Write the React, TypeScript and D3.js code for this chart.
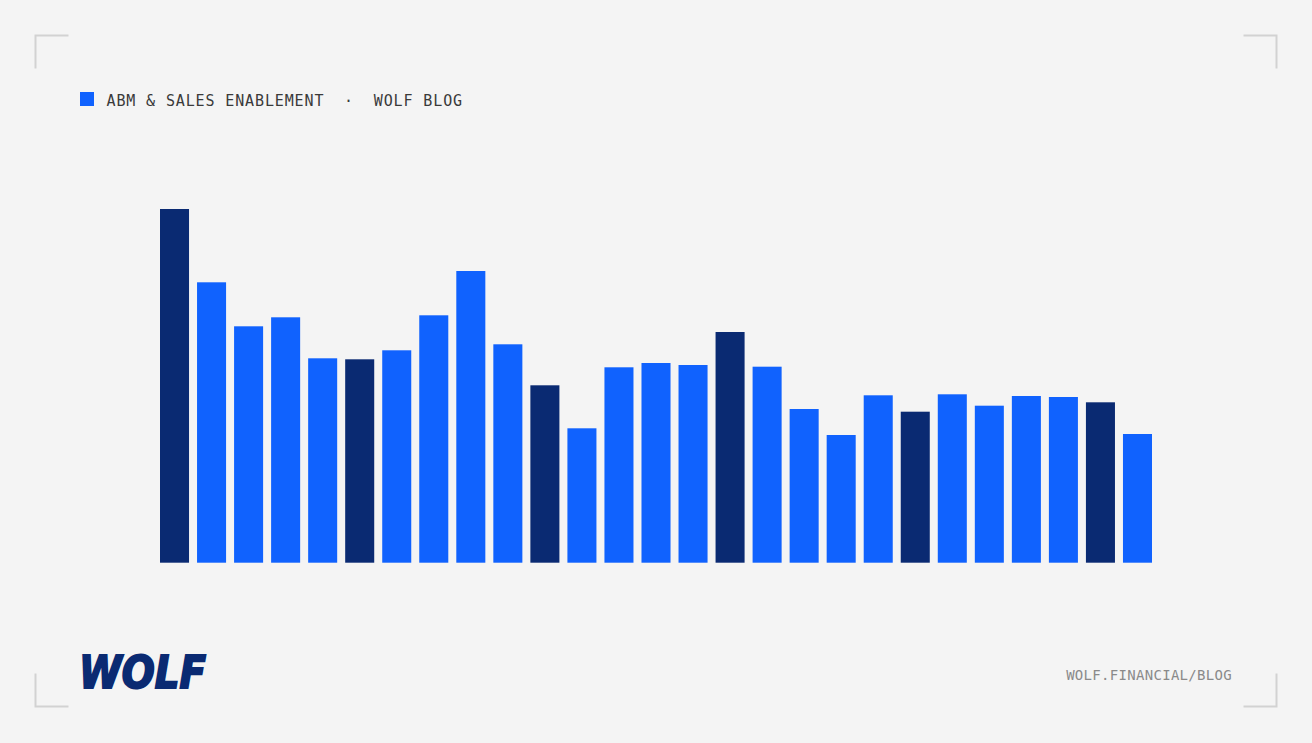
import React, { useEffect, useRef } from "react";
import * as d3 from "d3";

// 27개 막대 (높이 값은 그림에서 읽은 추정치)
const categories = d3.range(1, 28).map((i) => `P${i}`);
const values = [
  353.7, 280.4, 236.4, 245.4, 204.4, 203.4, 212.4, 247.4, 291.7, 218.4,
  177.4, 134.4, 195.4, 199.7, 197.7, 230.7, 196.0, 153.7, 127.7, 167.4,
  151.0, 168.4, 157.0, 166.7, 165.7, 160.4, 128.7,
];
// 강조(진한 남색) 막대 인덱스
const highlighted = [0, 5, 10, 15, 20, 25];

const headerLabel = "ABM & SALES ENABLEMENT  ·  WOLF BLOG";
const footerLabel = "WOLF.FINANCIAL/BLOG";
const logoLabel = "WOLF";

const BLUE = "#1062fe";
const NAVY = "#0a2a72";
const BG = "#f4f4f4";
const CORNER = "#d2d2d2";

const App: React.FC = () => {
  const ref = useRef<HTMLDivElement>(null);

  useEffect(() => {
    if (!ref.current) return;
    document.body.style.margin = "0";
    d3.select(ref.current).selectAll("svg").remove();

    const width = 1312;
    const height = 743;

    const svg = d3
      .select(ref.current)
      .append("svg")
      .attr("width", width)
      .attr("height", height)
      .style("display", "block");

    svg.append("rect").attr("width", width).attr("height", height).attr("fill", BG);

    // 모서리 브래킷
    const corners: [number, number, number, number][] = [
      [35.5, 35.5, 1, 1],
      [1276.5, 35.5, -1, 1],
      [35.5, 706.5, 1, -1],
      [1276.5, 706.5, -1, -1],
    ];
    const len = 33;
    svg
      .selectAll(".corner")
      .data(corners)
      .join("path")
      .attr("class", "corner")
      .attr("d", ([x, y, dx, dy]) => `M${x},${y + dy * len}V${y}H${x + dx * len}`)
      .attr("fill", "none")
      .attr("stroke", CORNER)
      .attr("stroke-width", 2);

    // 헤더 (범례)
    svg.append("rect").attr("x", 80).attr("y", 92).attr("width", 14).attr("height", 14).attr("fill", BLUE);
    svg
      .append("text")
      .attr("x", 106.5)
      .attr("y", 106)
      .attr("font-family", "'DejaVu Sans Mono', 'Liberation Mono', monospace")
      .attr("font-size", 15)
      .attr("letter-spacing", "0.87px")
      .attr("fill", "#3a3a3a")
      .style("white-space", "pre")
      .text(headerLabel);

    // 막대 차트
    const x = d3
      .scaleBand<string>()
      .domain(categories)
      .range([156, 1156])
      .paddingInner(8 / 37)
      .paddingOuter(4 / 37);

    const y = d3
      .scaleLinear()
      .domain([0, d3.max(values) as number])
      .range([562.7, 209]);

    svg
      .selectAll(".bar")
      .data(values)
      .join("rect")
      .attr("class", "bar")
      .attr("x", (_, i) => x(categories[i]) as number)
      .attr("width", x.bandwidth())
      .attr("y", (d) => y(d))
      .attr("height", (d) => y(0) - y(d))
      .attr("fill", (_, i) => (highlighted.includes(i) ? NAVY : BLUE));

    // 로고
    svg
      .append("text")
      .attr("x", 79)
      .attr("y", 688)
      .attr("font-family", "'DejaVu Sans', 'Liberation Sans', sans-serif")
      .attr("font-weight", 900)
      .attr("font-style", "italic")
      .attr("font-size", 44)
      .attr("textLength", 127)
      .attr("lengthAdjust", "spacingAndGlyphs")
      .attr("fill", NAVY)
      .attr("stroke", NAVY)
      .attr("stroke-width", 2)
      .text(logoLabel);

    // 푸터 URL
    svg
      .append("text")
      .attr("x", 1232)
      .attr("y", 679.5)
      .attr("text-anchor", "end")
      .attr("font-family", "'DejaVu Sans Mono', 'Liberation Mono', monospace")
      .attr("font-size", 14)
      .attr("letter-spacing", "0.3px")
      .attr("fill", "#8a8a8a")
      .text(footerLabel);
  }, []);

  return <div ref={ref} />;
};

export default App;
